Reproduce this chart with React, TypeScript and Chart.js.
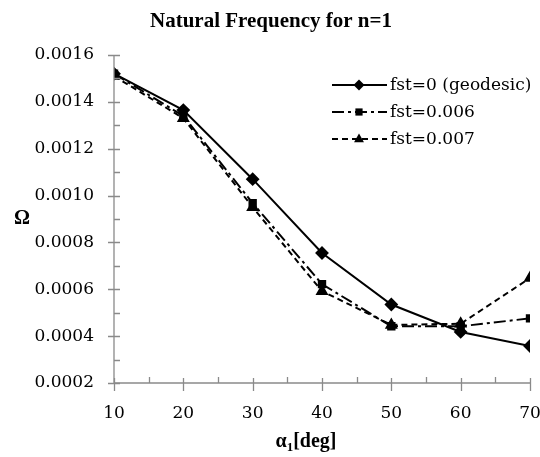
import React, { useEffect, useRef } from "react";
import { Chart, registerables } from "chart.js";

Chart.register(...registerables);

const angles = [10, 20, 30, 40, 50, 60, 70];
const fst0 = [0.00152, 0.001365, 0.00107, 0.000755, 0.000535, 0.000418, 0.000358];
const fst006 = [0.00152, 0.00134, 0.000968, 0.000622, 0.000442, 0.000442, 0.000476];
const fst007 = [0.00151, 0.00133, 0.00095, 0.000592, 0.000448, 0.000453, 0.000648];
const seriesLabels = ["fst=0 (geodesic)", "fst=0.006", "fst=0.007"];
const chartTitle = "Natural Frequency for n=1";
const yTitle = "Ω";

const AXIS_COLOR = "#8a8a8a";
const TICK_FONT = "DejaVu Serif";

function drawMarker(ctx: CanvasRenderingContext2D, style: string, x: number, y: number, r: number) {
  ctx.beginPath();
  if (style === "rectRot") {
    ctx.moveTo(x, y - r);
    ctx.lineTo(x + r, y);
    ctx.lineTo(x, y + r);
    ctx.lineTo(x - r, y);
  } else if (style === "rect") {
    ctx.rect(x - r * 0.8, y - r * 0.8, r * 1.6, r * 1.6);
  } else {
    ctx.moveTo(x, y - r);
    ctx.lineTo(x + r * 0.9, y + r * 0.6);
    ctx.lineTo(x - r * 0.9, y + r * 0.6);
  }
  ctx.closePath();
  ctx.fill();
}

const decorPlugin = {
  id: "decor",
  afterDraw(chart: any) {
    const ctx: CanvasRenderingContext2D = chart.ctx;
    const xs = chart.scales.x;
    const ys = chart.scales.y;
    const area = chart.chartArea;
    ctx.save();
    // axes
    ctx.strokeStyle = AXIS_COLOR;
    ctx.lineWidth = 1.3;
    ctx.setLineDash([]);
    ctx.beginPath();
    ctx.moveTo(area.left, area.top);
    ctx.lineTo(area.left, area.bottom);
    ctx.lineTo(area.right, area.bottom);
    ctx.stroke();
    // y ticks
    const yTicks = ys.ticks.map((t: any) => t.value);
    ctx.beginPath();
    yTicks.forEach((v: number, i: number) => {
      const py = Math.round(ys.getPixelForValue(v)) + 0.5;
      ctx.moveTo(area.left - 6, py);
      ctx.lineTo(area.left + 6, py);
      if (i < yTicks.length - 1) {
        const my = Math.round(ys.getPixelForValue((v + yTicks[i + 1]) / 2)) + 0.5;
        ctx.moveTo(area.left, my);
        ctx.lineTo(area.left + 6, my);
      }
    });
    // x ticks
    const xTicks = xs.ticks.map((t: any) => t.value);
    xTicks.forEach((v: number, i: number) => {
      const px = Math.round(xs.getPixelForValue(v)) + 0.5;
      ctx.moveTo(px, area.bottom - 5);
      ctx.lineTo(px, area.bottom + 8);
      if (i < xTicks.length - 1) {
        const mx = Math.round(xs.getPixelForValue((v + xTicks[i + 1]) / 2)) + 0.5;
        ctx.moveTo(mx, area.bottom - 6);
        ctx.lineTo(mx, area.bottom);
      }
    });
    ctx.stroke();

    // title
    ctx.fillStyle = "#000";
    ctx.textAlign = "center";
    ctx.textBaseline = "middle";
    ctx.font = "bold 21px 'Liberation Serif'";
    ctx.fillText(chartTitle, 271, 22);

    // y title
    ctx.font = "bold 20px 'Liberation Serif'";
    ctx.fillText(yTitle, 22, 219);

    // x title α1[deg]
    ctx.textAlign = "left";
    ctx.textBaseline = "alphabetic";
    const big = "bold 20px 'Liberation Serif'";
    const small = "bold 13px 'Liberation Serif'";
    ctx.font = big;
    const wA = ctx.measureText("α").width;
    const wD = ctx.measureText("[deg]").width;
    ctx.font = small;
    const w1 = ctx.measureText("1").width;
    const total = wA + w1 + wD;
    let sx = 306 - total / 2;
    const base = 447;
    ctx.font = big;
    ctx.fillText("α", sx, base);
    sx += wA;
    ctx.font = small;
    ctx.fillText("1", sx, base + 4);
    sx += w1;
    ctx.font = big;
    ctx.fillText("[deg]", sx, base);

    // legend
    ctx.font = `17px '${TICK_FONT}'`;
    ctx.textBaseline = "middle";
    const rowY = [85, 112, 139];
    chart.data.datasets.forEach((ds: any, i: number) => {
      const y = rowY[i];
      ctx.strokeStyle = "#000";
      ctx.lineWidth = 2;
      ctx.setLineDash(ds.borderDash || []);
      ctx.beginPath();
      ctx.moveTo(332, y);
      ctx.lineTo(387, y);
      ctx.stroke();
      ctx.setLineDash([]);
      ctx.fillStyle = "#000";
      drawMarker(ctx, ds.pointStyle, 359, y, ds.pointRadius);
      ctx.fillText(ds.label, 390, y + 1);
    });
    ctx.restore();
  },
};

export default function App() {
  const ref = useRef<HTMLCanvasElement | null>(null);
  useEffect(() => {
    if (!ref.current) return;
    const toPts = (vals: number[]) => angles.map((a, i) => ({ x: a, y: vals[i] }));
    const chart = new Chart(ref.current, {
      type: "line",
      data: {
        datasets: [
          {
            label: seriesLabels[0],
            data: toPts(fst0),
            borderColor: "#000",
            backgroundColor: "#000",
            borderWidth: 2,
            pointStyle: "rectRot",
            pointRadius: 5.5,
            borderDash: [],
          },
          {
            label: seriesLabels[1],
            data: toPts(fst006),
            borderColor: "#000",
            backgroundColor: "#000",
            borderWidth: 2,
            pointStyle: "rect",
            pointRadius: 4.5,
            borderDash: [12, 4, 3, 4],
          },
          {
            label: seriesLabels[2],
            data: toPts(fst007),
            borderColor: "#000",
            backgroundColor: "#000",
            borderWidth: 2,
            pointStyle: "triangle",
            pointRadius: 5.5,
            borderDash: [6, 4],
          },
        ] as any,
      },
      options: {
        animation: false,
        responsive: true,
        maintainAspectRatio: false,
        layout: { padding: { top: 55, right: 0, left: 0, bottom: 0 } },
        plugins: { legend: { display: false }, title: { display: false }, tooltip: { enabled: false } },
        elements: { line: { tension: 0 } },
        scales: {
          x: {
            type: "linear",
            min: 10,
            max: 70,
            grid: { display: false, drawTicks: false },
            border: { display: false },
            ticks: {
              stepSize: 10,
              padding: 20,
              color: "#000",
              font: { family: TICK_FONT, size: 17 },
              maxRotation: 0,
            },
            afterFit: (s: any) => {
              s.height = 74;
              s.paddingRight = 10;
            },
          },
          y: {
            type: "linear",
            min: 0.0002,
            max: 0.0016,
            grid: { display: false, drawTicks: false },
            border: { display: false },
            ticks: {
              stepSize: 0.0002,
              padding: 20,
              color: "#000",
              font: { family: TICK_FONT, size: 17 },
              callback: (v: any) => Number(v).toFixed(4),
            },
            afterFit: (s: any) => {
              s.width = 114;
            },
          },
        },
      } as any,
      plugins: [decorPlugin],
    });
    return () => chart.destroy();
  }, []);
  return (
    <div style={{ position: "fixed", left: 0, top: 0, width: 540, height: 457, background: "#fff" }}>
      <canvas ref={ref} />
    </div>
  );
}
